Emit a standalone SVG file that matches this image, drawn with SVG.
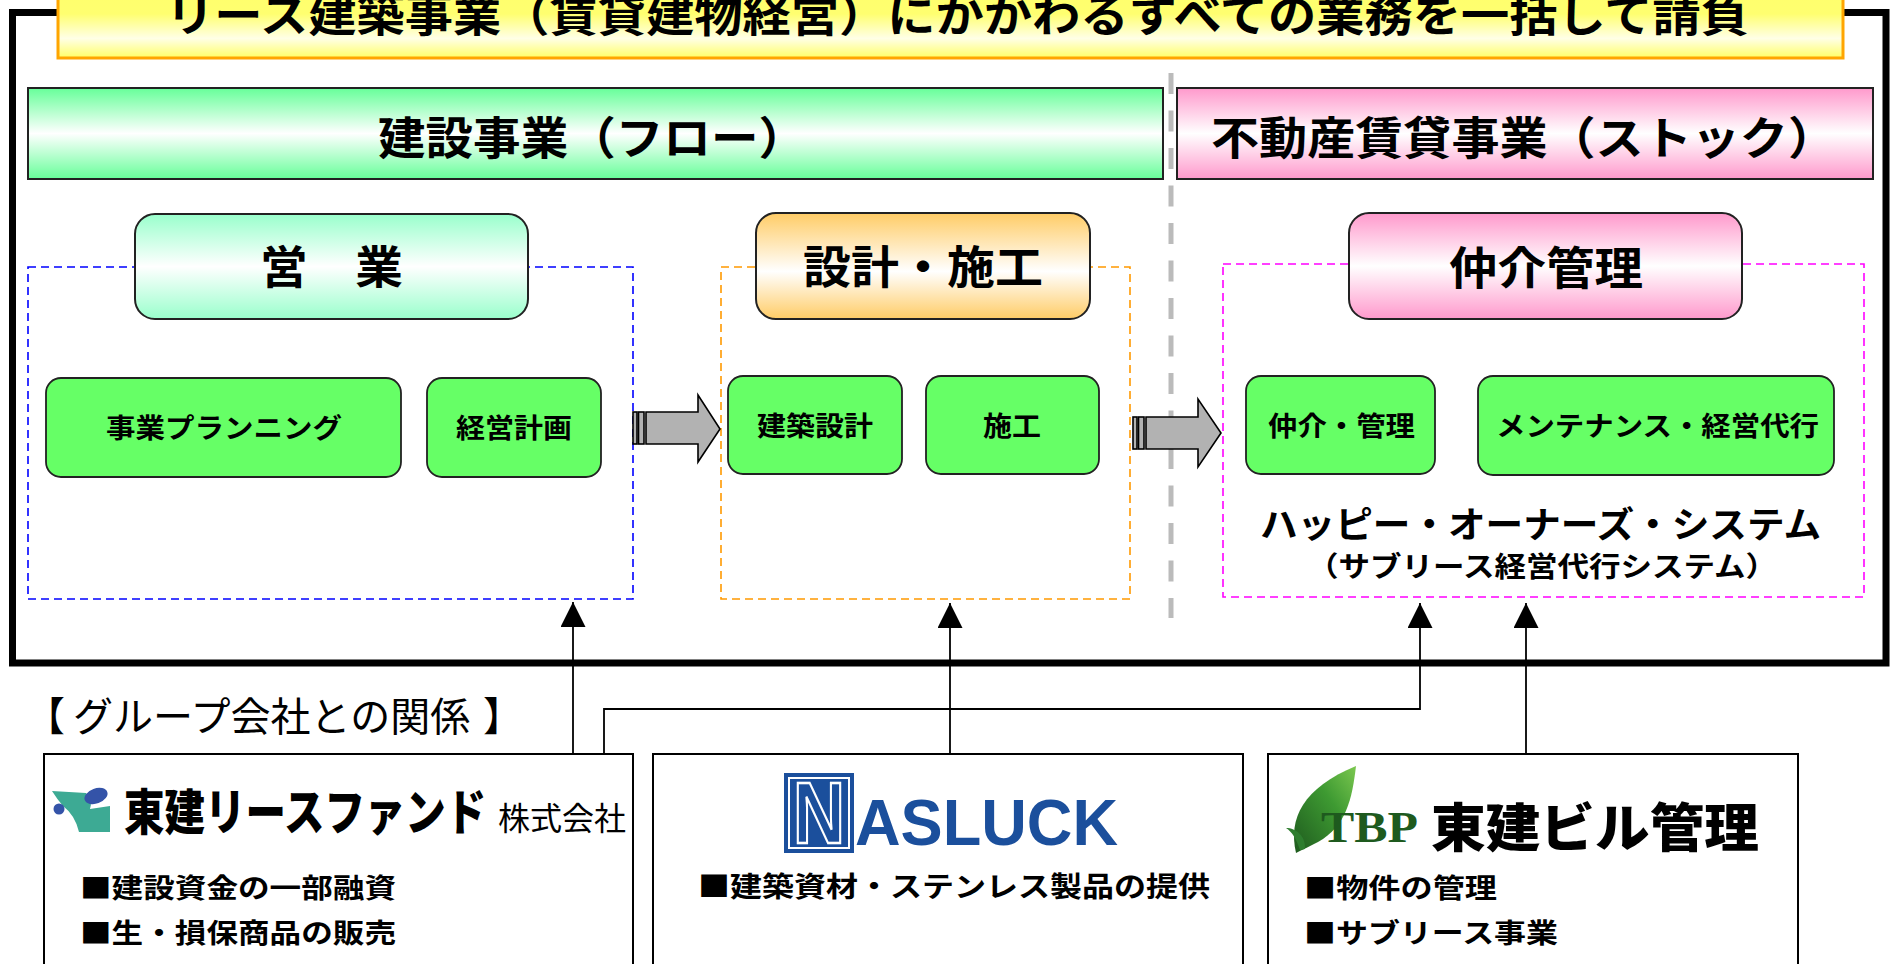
<svg xmlns="http://www.w3.org/2000/svg" width="1890" height="964" viewBox="0 0 1890 964">
<defs>
<style>
text{font-family:"Noto Sans CJK JP","Noto Sans CJK SC",sans-serif;fill:#000}
.b{font-weight:bold}
.hd{font-size:45px;font-weight:bold}
.sm{font-size:27px;font-weight:bold}
.gbox{fill:#66FF66;stroke:#222;stroke-width:1.8}
.dash{fill:none;stroke-width:1.6;stroke-dasharray:8 5}
.conn{fill:none;stroke:#000;stroke-width:1.8}
.blk{fill:#B2B2B2;stroke:#000;stroke-width:1.6}
.cbox{fill:#fff;stroke:#000;stroke-width:2}
.item{font-size:27px;font-weight:bold}
</style>
<linearGradient id="gTitle" x1="0" y1="0" x2="0" y2="1">
<stop offset="0" stop-color="#FFFF66"/><stop offset="0.55" stop-color="#FFFF70"/><stop offset="0.8" stop-color="#FFFFE6"/><stop offset="1" stop-color="#FFFF66"/>
</linearGradient>
<linearGradient id="gGreen" x1="0" y1="0" x2="0" y2="1">
<stop offset="0" stop-color="#66FF99"/><stop offset="0.5" stop-color="#FFFFFF"/><stop offset="1" stop-color="#66FF99"/>
</linearGradient>
<linearGradient id="gPink" x1="0" y1="0" x2="0" y2="1">
<stop offset="0" stop-color="#FF99CC"/><stop offset="0.5" stop-color="#FFFFFF"/><stop offset="1" stop-color="#FF99CC"/>
</linearGradient>
<linearGradient id="gMint" x1="0" y1="0" x2="0" y2="1">
<stop offset="0" stop-color="#99FFCC"/><stop offset="0.5" stop-color="#FFFFFF"/><stop offset="1" stop-color="#99FFCC"/>
</linearGradient>
<linearGradient id="gOrange" x1="0" y1="0" x2="0" y2="1">
<stop offset="0" stop-color="#FFCC66"/><stop offset="0.55" stop-color="#FFFFFF"/><stop offset="1" stop-color="#FFCC66"/>
</linearGradient>
<linearGradient id="gLeaf" x1="0" y1="1" x2="1" y2="0">
<stop offset="0" stop-color="#1E5A1E"/><stop offset="0.6" stop-color="#3E9A32"/><stop offset="1" stop-color="#7CC850"/>
</linearGradient>
<marker id="ah" viewBox="0 0 25 25" refX="25" refY="12.5" markerWidth="25" markerHeight="25" markerUnits="userSpaceOnUse" orient="auto">
<path d="M0,0 L25,12.5 L0,25 Z" fill="#000"/>
</marker>
</defs>
<rect width="1890" height="964" fill="#fff"/>

<!-- outer frame -->
<rect id="frame" x="12.5" y="12.5" width="1873.5" height="650.5" fill="none" stroke="#000" stroke-width="7"/>

<g id="title">
<rect x="58" y="-40" width="1785" height="98" fill="url(#gTitle)" stroke="#FFA500" stroke-width="3"/>
<text x="166" y="32" font-size="45" class="b" textLength="1583" lengthAdjust="spacingAndGlyphs">リース建築事業（賃貸建物経営）にかかわるすべての業務を一括して請負</text>
</g>

<g id="band-flow">
<rect x="28" y="88" width="1135" height="91" fill="url(#gGreen)" stroke="#222" stroke-width="2"/>
<text x="378" y="155" class="hd" textLength="428" lengthAdjust="spacingAndGlyphs">建設事業（フロー）</text>
</g>
<g id="band-stock">
<rect x="1177" y="88" width="696" height="91" fill="url(#gPink)" stroke="#222" stroke-width="2"/>
<text x="1211" y="155" class="hd" textLength="625" lengthAdjust="spacingAndGlyphs">不動産賃貸事業（ストック）</text>
</g>

<line id="divider" x1="1171" y1="73" x2="1171" y2="618" stroke="#BBBBBB" stroke-width="5" stroke-dasharray="21 16.5"/>

<g id="group-sales">
<rect x="28" y="267" width="605" height="332" class="dash" stroke="#0000FF"/>
<rect x="135" y="214" width="393" height="105" rx="20" fill="url(#gMint)" stroke="#222" stroke-width="2"/>
<text x="260" y="284" class="hd" textLength="143" lengthAdjust="spacingAndGlyphs">営　業</text>
</g>
<g id="group-design">
<rect x="721" y="267" width="409" height="332" class="dash" stroke="#FF9900"/>
<rect x="756" y="213" width="334" height="106" rx="20" fill="url(#gOrange)" stroke="#222" stroke-width="2"/>
<text x="803" y="284" class="hd" textLength="240" lengthAdjust="spacingAndGlyphs">設計・施工</text>
</g>
<g id="group-mgmt">
<rect x="1223" y="264" width="641" height="333" class="dash" stroke="#FF00FF"/>
<rect x="1349" y="213" width="393" height="106" rx="20" fill="url(#gPink)" stroke="#222" stroke-width="2"/>
<text x="1449" y="285" class="hd" textLength="194" lengthAdjust="spacingAndGlyphs">仲介管理</text>
<text x="1260" y="538" font-size="36" class="b" textLength="561" lengthAdjust="spacingAndGlyphs">ハッピー・オーナーズ・システム</text>
<text x="1307" y="577" font-size="28" class="b" textLength="470" lengthAdjust="spacingAndGlyphs">（サブリース経営代行システム）</text>
</g>

<g id="node-planning">
<rect x="46" y="378" width="355" height="99" rx="15" class="gbox"/>
<text x="106" y="438" class="sm" textLength="236" lengthAdjust="spacingAndGlyphs">事業プランニング</text>
</g>
<g id="node-plan">
<rect x="427" y="378" width="174" height="99" rx="15" class="gbox"/>
<text x="456" y="438" class="sm" textLength="116" lengthAdjust="spacingAndGlyphs">経営計画</text>
</g>
<g id="node-archdesign">
<rect x="728" y="376" width="174" height="98" rx="15" class="gbox"/>
<text x="757" y="436" class="sm" textLength="116" lengthAdjust="spacingAndGlyphs">建築設計</text>
</g>
<g id="node-construct">
<rect x="926" y="376" width="173" height="98" rx="15" class="gbox"/>
<text x="983" y="436" class="sm" textLength="58" lengthAdjust="spacingAndGlyphs">施工</text>
</g>
<g id="node-brokerage">
<rect x="1246" y="376" width="189" height="98" rx="15" class="gbox"/>
<text x="1268" y="436" class="sm" textLength="147" lengthAdjust="spacingAndGlyphs">仲介・管理</text>
</g>
<g id="node-maint">
<rect x="1478" y="376" width="356" height="99" rx="15" class="gbox"/>
<text x="1496" y="436" class="sm" textLength="323" lengthAdjust="spacingAndGlyphs">メンテナンス・経営代行</text>
</g>

<g id="flow-arrows">
<g>
<rect x="633" y="412" width="4" height="32" class="blk"/>
<rect x="638.5" y="412" width="5.5" height="32" class="blk"/>
<path d="M646,412 L698,412 L698,395 L720,429 L698,462 L698,444 L646,444 Z" class="blk"/>
</g>
<g>
<rect x="1133" y="417" width="4" height="32" class="blk"/>
<rect x="1138.5" y="417" width="5.5" height="32" class="blk"/>
<path d="M1146,417 L1198,417 L1198,399 L1221,433 L1198,467 L1198,449 L1146,449 Z" class="blk"/>
</g>
</g>

<text id="group-label" font-size="40" y="731"><tspan x="25">【</tspan><tspan x="73">グループ会社との関係</tspan><tspan x="483">】</tspan></text>

<g id="co-fund">
<rect x="44" y="754" width="589" height="260" class="cbox"/>
<path d="M52,791 L86,793 Q93,801 90,809 L110,806 L110,832 L79,832 Q75,815 63,806 Q57,799 52,791 Z" fill="#3DAA94"/>
<ellipse cx="96" cy="796" rx="12" ry="7.5" transform="rotate(-20 96 796)" fill="#3453A8"/>
<circle cx="59" cy="809" r="5.5" fill="#3453A8"/>
<text transform="translate(124,830) scale(1,1.22)" x="0" y="0" font-size="40.5" font-weight="900" fill="#111">東建リースファンド</text>
<text x="498" y="830" font-size="32" textLength="128" lengthAdjust="spacingAndGlyphs">株式会社</text>
<text x="80" y="898" class="item" textLength="316" lengthAdjust="spacingAndGlyphs">■建設資金の一部融資</text>
<text x="80" y="943" class="item" textLength="316" lengthAdjust="spacingAndGlyphs">■生・損保商品の販売</text>
</g>

<g id="co-nasluck">
<rect x="653" y="754" width="590" height="260" class="cbox"/>
<rect x="784" y="773" width="70" height="80" fill="#1B4F9C"/>
<rect x="789" y="778" width="60" height="70" fill="none" stroke="#fff" stroke-width="2"/>
<text x="793" y="843" font-size="88" font-weight="bold" textLength="52" lengthAdjust="spacingAndGlyphs" style="font-family:'Liberation Sans',sans-serif;fill:#1B4F9C" stroke="#fff" stroke-width="2.5">N</text>
<text x="855" y="845" font-size="64" font-weight="bold" textLength="263" lengthAdjust="spacingAndGlyphs" style="font-family:'Liberation Sans',sans-serif;fill:#1B4F9C">ASLUCK</text>
<text x="698" y="897" font-size="28" class="b" textLength="512" lengthAdjust="spacingAndGlyphs">■建築資材・ステンレス製品の提供</text>
</g>

<g id="co-tbp">
<rect x="1268" y="754" width="530" height="260" class="cbox"/>
<path d="M1296,853 C1288,818 1303,788 1356,766 C1352,800 1346,826 1318,842 C1310,846 1302,850 1296,853 Z" fill="url(#gLeaf)"/>
<path d="M1300,850 C1296,838 1292,832 1286,828 C1296,828 1306,836 1305,849 Z" fill="#2E7D2E"/>
<text x="1321" y="842" font-size="44" font-weight="bold" textLength="97" lengthAdjust="spacingAndGlyphs" style="font-family:'Liberation Serif',serif;fill:#1E5A1E">TBP</text>
<text x="1431" y="847" font-size="52" font-weight="900" textLength="328" lengthAdjust="spacingAndGlyphs" fill="#222">東建ビル管理</text>
<text x="1304" y="898" class="item" textLength="193" lengthAdjust="spacingAndGlyphs">■物件の管理</text>
<text x="1304" y="943" class="item" textLength="254" lengthAdjust="spacingAndGlyphs">■サブリース事業</text>
</g>

<g id="connectors">
<path d="M573,753 L573,602" class="conn" marker-end="url(#ah)"/>
<path d="M950,753 L950,603" class="conn" marker-end="url(#ah)"/>
<path d="M604,753 L604,709 L1420,709 L1420,603" class="conn" marker-end="url(#ah)"/>
<path d="M1526,753 L1526,603" class="conn" marker-end="url(#ah)"/>
</g>
</svg>
